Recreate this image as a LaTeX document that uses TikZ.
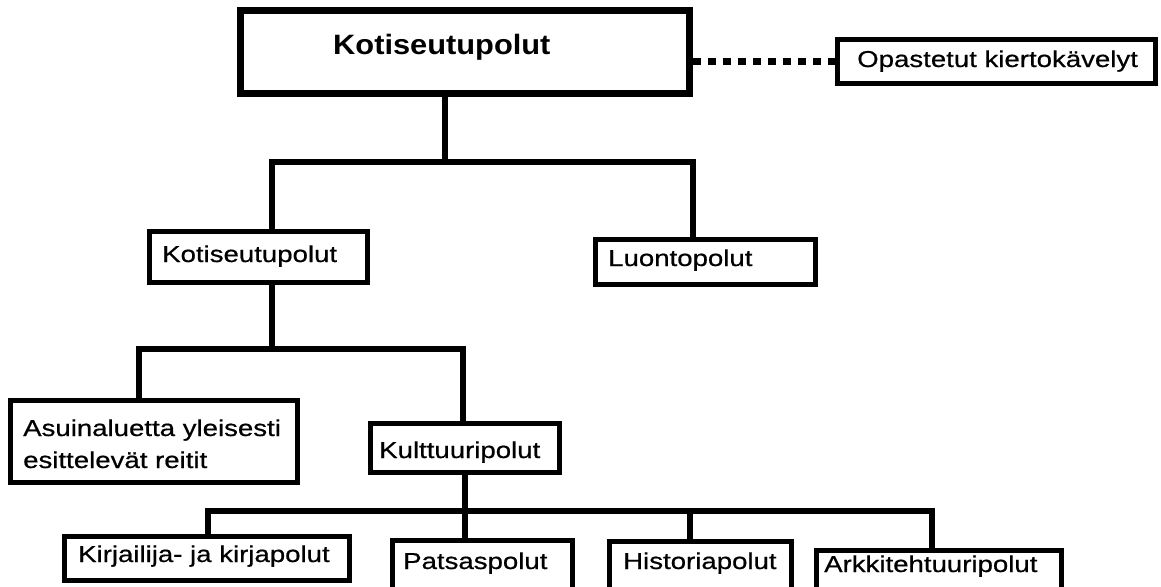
\documentclass[tikz,border=0pt]{standalone}
\usepackage{fontspec}
\setmainfont{Liberation Sans}[FakeStretch=1.2, FakeBold=0.6]
\newfontfamily\headfont{Liberation Sans}[FakeStretch=1.1]
\begin{document}
\begin{tikzpicture}[x=1pt,y=-1pt,
  box/.style={draw=black, line width=5pt, fill=white, inner sep=0pt, rectangle},
  bigbox/.style={box, line width=7pt},
  txt/.style={inner sep=0pt, anchor=base west, font=\fontsize{23}{32}\selectfont},
  head/.style={inner sep=0pt, anchor=base west, font=\headfont\bfseries\fontsize{28}{32}\selectfont},
  link/.style={line width=6pt, line join=miter},
  dotlink/.style={line width=7pt, dash pattern=on 8pt off 7pt}]
\useasboundingbox (0,0) rectangle (1161,586);
\clip (0,0) rectangle (1161,586);
% boxes
\node[bigbox, minimum width=449pt, minimum height=83pt] (top) at (465,52) {};
\node[box, minimum width=318pt, minimum height=44pt] (opast) at (996.5,61.5) {};
\node[box, minimum width=218pt, minimum height=51pt] (kot) at (258.5,257) {};
\node[box, minimum width=220pt, minimum height=45pt] (luonto) at (705.5,262) {};
\node[box, minimum width=287pt, minimum height=82pt] (asuin) at (154,441.5) {};
\node[box, minimum width=189pt, minimum height=49pt] (kultt) at (465,448) {};
\node[box, minimum width=285pt, minimum height=44pt] (kirj) at (207,558.5) {};
\node[box, minimum width=180pt, minimum height=57pt] (patsas) at (482.5,569) {};
\node[box, minimum width=182pt, minimum height=56pt] (hist) at (700.5,569.5) {};
\node[box, minimum width=245pt, minimum height=47pt] (arkki) at (939,574) {};
% texts
\node[head] (topt) at (333,55) {Kotiseutupolut};
\node[txt] (opastt) at (857,67) {Opastetut kiertokävelyt};
\node[txt] (kott) at (162,262) {Kotiseutupolut};
\node[txt] (luontot) at (608,266) {Luontopolut};
\node[txt] (asuint1) at (23,436) {Asuinaluetta yleisesti};
\node[txt] (asuint2) at (23,468) {esittelevät reitit};
\node[txt] (kulttt) at (379,458) {Kulttuuripolut};
\node[txt] (kirjt) at (78,562) {Kirjailija- ja kirjapolut};
\node[txt] (patsast) at (403,569) {Patsaspolut};
\node[txt] (histt) at (623,569) {Historiapolut};
\node[txt] (arkkit) at (824,572) {Arkkitehtuuripolut};
% junctions
\coordinate (j1) at (445,162);
\coordinate (b1) at (272,162);
\coordinate (b2) at (693,162);
\coordinate (j2) at (272,349);
\coordinate (c1) at (139,349);
\coordinate (c2) at (463,349);
\coordinate (j3) at (465,511);
\coordinate (d1) at (208,511);
\coordinate (d3) at (690,511);
\coordinate (d4) at (932,511);
% connectors
\draw[dotlink] (top.east |- opast.west) -- (opast.west);
\draw[link] (top.south -| j1) -- (j1);
\draw[link] (kot.north -| b1) -- (b1) -- (b2) -- (luonto.north -| b2);
\draw[link] (kot.south -| j2) -- (j2);
\draw[link] (asuin.north -| c1) -- (c1) -- (c2) -- (kultt.north -| c2);
\draw[link] (kultt.south -| j3) -- (patsas.north -| j3);
\draw[link] (kirj.north -| d1) -- (d1) -- (d4) -- (arkki.north -| d4);
\draw[link] (hist.north -| d3) -- (d3);
\end{tikzpicture}
\end{document}
